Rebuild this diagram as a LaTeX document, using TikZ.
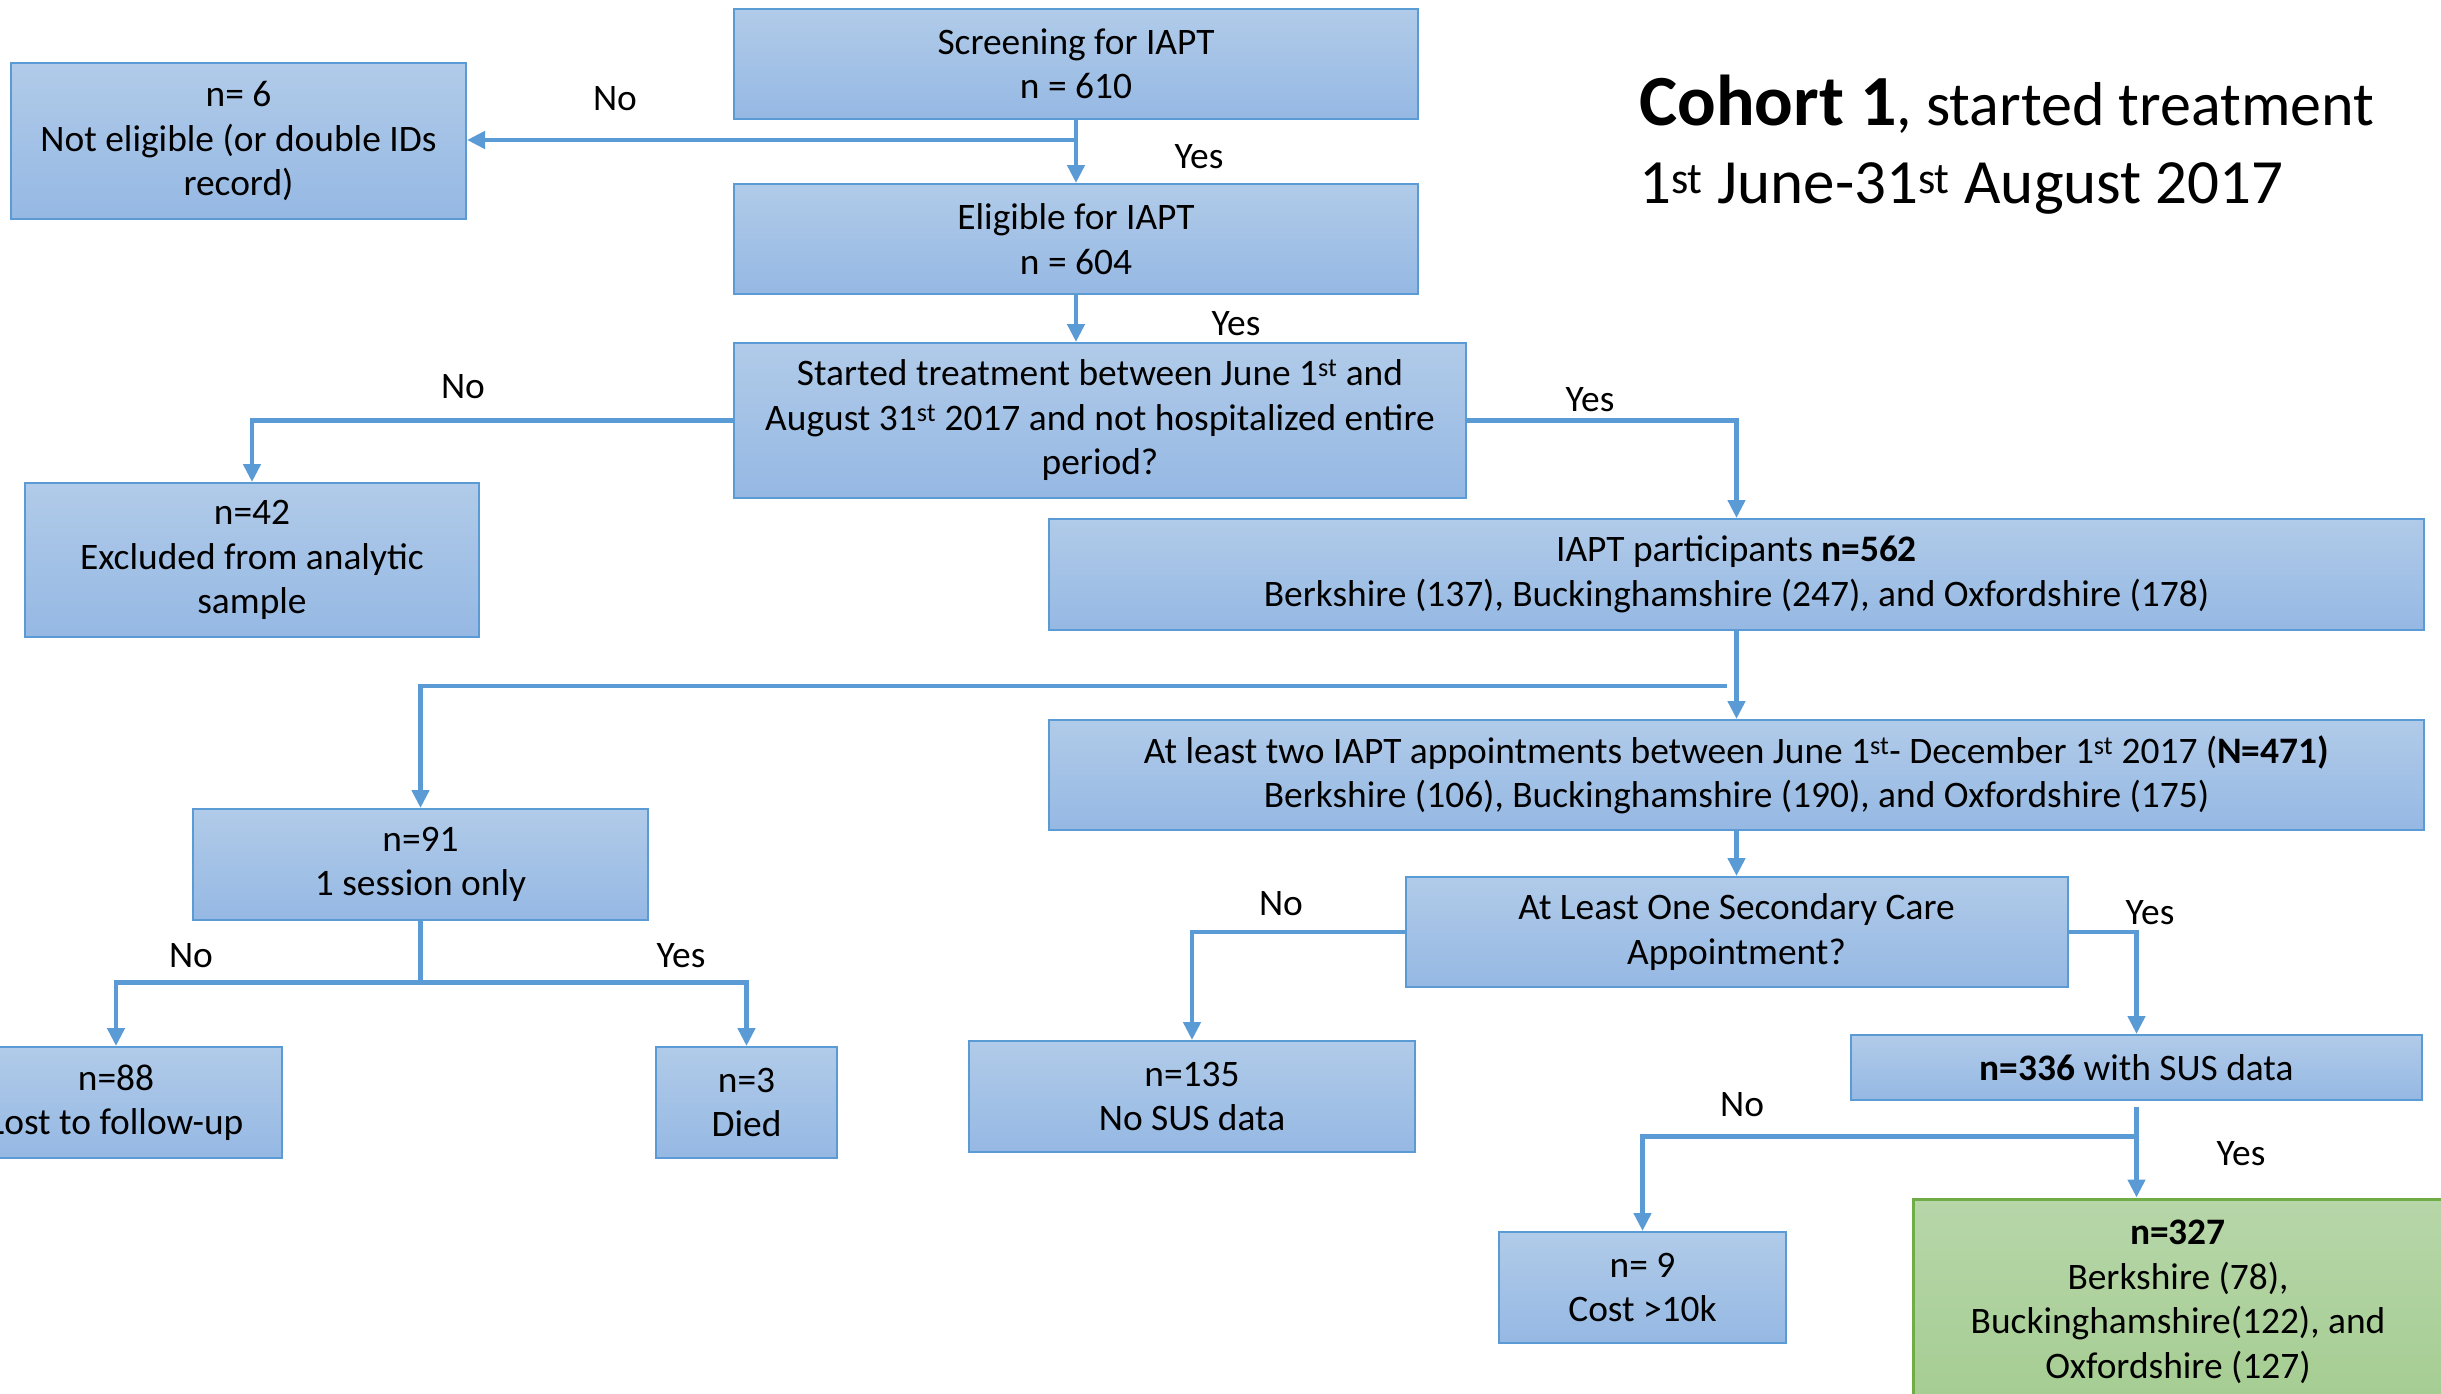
\documentclass[tikz,border=0pt]{standalone}
\usepackage{fontspec}
\setmainfont{Carlito}
\usetikzlibrary{arrows.meta,calc}
\definecolor{boxtop}{HTML}{B1CBE9}
\definecolor{boxbot}{HTML}{95B8E3}
\definecolor{boxline}{HTML}{5B9BD5}
\definecolor{grtop}{HTML}{B7D6A9}
\definecolor{grbot}{HTML}{A5CD92}
\definecolor{grline}{HTML}{70AD47}
\tikzset{
  bx/.style={draw=boxline, line width=2pt, top color=boxtop, bottom color=boxbot,
    align=center, inner sep=0pt, font=\fontsize{37.4}{44.5}\selectfont},
  gbx/.style={bx, draw=grline, line width=3pt, top color=grtop, bottom color=grbot},
  conn/.style={draw=boxline, line width=4.5pt, -{Triangle[width=17pt,length=18pt]}},
  plain/.style={draw=boxline, line width=4.5pt},
  lbl/.style={font=\fontsize{37.4}{44.5}\selectfont, inner sep=0pt}
}
\begin{document}
\begin{tikzpicture}[x=1pt,y=-1pt]
\useasboundingbox (0,0) rectangle (2441,1393);
\clip (0,0) rectangle (2441,1393);
% boxes
\node[bx, minimum width=684, minimum height=110] (scr) at (1076,64) {Screening for IAPT\\n = 610};
\node[bx, minimum width=684, minimum height=110] (elig) at (1076,239) {Eligible for IAPT\\n = 604};
\node[bx, minimum width=732, minimum height=155] (start) at (1100,420.5) {Started treatment between June 1\textsuperscript{st} and\\August 31\textsuperscript{st} 2017 and not hospitalized entire\\period?};
\node[bx, minimum width=455, minimum height=156] (n6) at (238.5,141) {n= 6\\Not eligible (or double IDs\\record)};
\node[bx, minimum width=454, minimum height=154] (n42) at (252,560) {n=42\\Excluded from analytic\\sample};
\node[bx, minimum width=1375, minimum height=111] (iapt) at (1736.5,574.5) {IAPT participants \textbf{n=562}\\Berkshire (137), Buckinghamshire (247), and Oxfordshire (178)};
\node[bx, minimum width=1375, minimum height=110] (two) at (1736.5,775) {At least two IAPT appointments between June 1\textsuperscript{st}- December 1\textsuperscript{st} 2017 (\textbf{N=471)}\\Berkshire (106), Buckinghamshire (190), and Oxfordshire (175)};
\node[bx, minimum width=662, minimum height=110] (sec) at (1736.5,932) {At Least One Secondary Care\\Appointment?};
\node[bx, minimum width=446, minimum height=111] (n135) at (1192,1096.5) {n=135\\No SUS data};
\node[bx, minimum width=571, minimum height=65] (n336) at (2136.5,1067.5) {\textbf{n=336} with SUS data};
\node[bx, minimum width=287, minimum height=111] (n9) at (1642.5,1287.5) {n= 9\\Cost >10k};
\node[gbx, minimum width=530, minimum height=206] (fin) at (2178,1302) {\textbf{n=327}\\Berkshire (78),\\Buckinghamshire(122), and\\Oxfordshire (127)};
\node[bx, minimum width=455, minimum height=111] (n91) at (420.5,864.5) {n=91\\1 session only};
\node[bx, minimum width=332, minimum height=111] (n88) at (116,1102.5) {n=88\\Lost to follow-up};
\node[bx, minimum width=181, minimum height=111] (n3) at (746.5,1102.5) {n=3\\Died};
% connectors
\coordinate (b1) at (1076,140);
\draw[conn] (scr.south) -- (elig.north);
\draw[conn] (b1) -- (b1 -| n6.east);
\draw[conn] (elig.south) -- (start.north -| elig.south);
\draw[conn] (start.west) -| (n42.north);
\draw[conn] (start.east) -| (iapt.north);
\draw[conn] (iapt.south) -- (two.north);
\coordinate (b2) at (1727,686);
\draw[conn] (b2) -| (n91.north);
\draw[conn] (two.south) -- (sec.north);
\draw[conn] (sec.west) -| (n135.north);
\draw[conn] (sec.east) -| (n336.north);
\coordinate (b5) at (2136.5,1107);
\draw[conn] (b5) -- (b5 |- fin.north);
\coordinate (b3) at (2136.5,1136.5);
\draw[conn] (b3) -| (n9.north);
\coordinate (b4) at (420.5,982.5);
\draw[plain] (n91.south) -- (b4);
\draw[conn] (b4) -| (n88.north);
\draw[conn] (b4) -| (n3.north);
% labels
\node[lbl] (l1) at (615,99) {No};
\node[lbl] (l2) at (1199,157) {Yes};
\node[lbl] (l3) at (1236,324) {Yes};
\node[lbl] (l4) at (463,387) {No};
\node[lbl] (l5) at (1590,400) {Yes};
\node[lbl] (l6) at (191,956) {No};
\node[lbl] (l7) at (681,956) {Yes};
\node[lbl] (l8) at (1281,904) {No};
\node[lbl] (l9) at (2150,913) {Yes};
\node[lbl] (l10) at (1742,1105) {No};
\node[lbl] (l11) at (2241,1154) {Yes};
% title
\node[anchor=base west, inner sep=0pt] (t1) at (1639,125) {{\fontsize{72}{80}\selectfont\bfseries Cohort 1}{\fontsize{62}{70}\selectfont, started treatment}};
\node[anchor=base west, inner sep=0pt] (t2) at (1639,203) {\fontsize{63}{70}\selectfont 1\textsuperscript{st} June-31\textsuperscript{st} August 2017};
\end{tikzpicture}
\end{document}
